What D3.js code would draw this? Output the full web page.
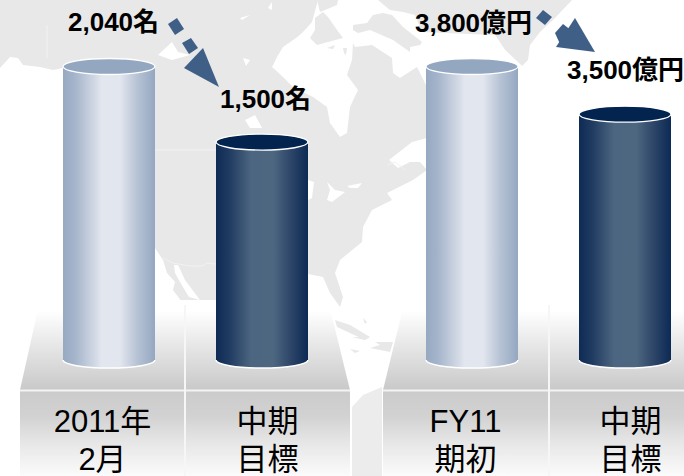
<!DOCTYPE html>
<html>
<head>
<meta charset="utf-8">
<script src="https://cdn.jsdelivr.net/npm/d3@7"></script>
<style>
html, body { margin: 0; padding: 0; background: #fff; overflow: hidden; }
svg { display: block; }
text { font-family: "Liberation Sans", "Noto Sans CJK JP", sans-serif; }
</style>
</head>
<body>
<svg width="684" height="476"></svg>
<script>
// values
var headcountCats = ["2011年|2月", "中期|目標"];
var headcountVals = [2040, 1500];
var costCats = ["FY11|期初", "中期|目標"];
var costVals = [3800, 3500];

var svg = d3.select("svg");
var defs = svg.append("defs");

function gradient(id, x2, y2, stops) {
    var g = defs.append("linearGradient").attr("id", id)
        .attr("x1", 0).attr("y1", 0).attr("x2", x2).attr("y2", y2);
    stops.forEach(function(s) {
        g.append("stop").attr("offset", s[0]).attr("stop-color", s[1]);
    });
}
gradient("lightBar", 1, 0, [[0, "#97a9c2"], [0.12, "#a3b3ca"], [0.32, "#ccd4e1"], [0.42, "#e2e6ef"], [0.62, "#e2e6ef"], [0.8, "#b8c4d5"], [1, "#94a7c1"]]);
gradient("darkBar", 1, 0, [[0, "#0e2b56"], [0.15, "#213c62"], [0.38, "#4c6580"], [0.62, "#4e6781"], [0.82, "#2c4467"], [1, "#0c2a55"]]);
gradient("floorTop", 0, 1, [[0, "#ffffff"], [0.12, "#ffffff"], [0.55, "#e4e4e4"], [1, "#c9c9c9"]]);
gradient("floorLow", 0, 1, [[0, "#cbcbcb"], [0.3, "#d2d2d2"], [0.6, "#e6e6e6"], [1, "#fbfbfb"]]);

// background map, hand traced, only decoration
var land = "#e8e8e8";
var mapG = svg.append("g");
var line = d3.line().curve(d3.curveLinearClosed);
function shape(points, fill) {
    mapG.append("path").attr("d", line(points)).attr("fill", fill);
}
shape([[0,0],[572,0],[555,18],[540,32],[530,45],[528,60],[522,66],[505,50],[495,35],[427,35],[427,138],[412,142],[389,160],[398,168],[410,162],[420,162],[427,170],[413,180],[387,193],[392,200],[372,210],[363,227],[362,242],[340,260],[335,273],[343,297],[340,307],[330,293],[323,277],[308,274],[216,302],[182,302],[173,290],[175,282],[167,273],[163,260],[155,248],[100,160],[63,68],[53,70],[40,67],[23,65],[18,58],[10,57],[0,68]], land);
// north atlantic and arctic water
shape([[272,67],[277,57],[283,47],[296,38],[303,32],[312,22],[318,0],[378,0],[390,10],[403,12],[415,15],[422,32],[430,40],[427,87],[417,67],[400,78],[393,73],[392,58],[372,45],[355,47],[353,43],[352,60],[347,75],[358,90],[350,107],[347,133],[340,137],[330,123],[327,107],[313,97],[293,87],[283,77]], "#fff");
shape([[420,32],[495,35],[505,50],[522,66],[427,66]], "#fff");
// arctic islands
shape([[315,18],[323,12],[328,17],[337,30],[343,38],[328,42],[317,45],[310,38],[315,30]], land);
shape([[327,48],[335,45],[333,49]], land);
shape([[343,48],[347,48],[346,55],[344,53]], land);
shape([[317,0],[338,0],[337,5],[325,10],[320,12]], land);
shape([[353,25],[367,23],[373,15],[383,13],[392,15],[403,27],[422,42],[420,45],[410,47],[410,52],[393,40],[370,30],[358,33],[353,30]], land);
// lakes and bays
shape([[308,180],[314,182],[312,198],[308,200]], "#fff");
shape([[327,182],[335,190],[345,192],[332,202],[327,200],[330,190]], "#fff");
shape([[347,186],[362,183],[358,188],[350,188]], "#fff");
shape([[158,55],[172,42],[178,52],[190,55],[172,60]], "#fff");
shape([[243,58],[250,60],[246,66]], "#fff");
shape([[240,18],[250,15],[242,20]], "#fff");
shape([[245,120],[255,115],[262,128],[250,128]], "#fff");
shape([[272,2],[272,10],[268,8]], "#fff");
// gulf of california
shape([[174,265],[178,265],[185,280],[200,300],[189,297],[180,282],[175,273]], "#fff");
// caribbean, seen in the gap between the floors
shape([[335,320],[350,325],[370,337],[365,340],[350,333],[337,327]], land);
shape([[375,342],[393,342],[390,352],[370,348],[380,345]], land);
shape([[350,349],[360,351],[355,353]], land);
shape([[352,337],[368,337],[365,340]], land);
shape([[363,318],[367,322],[365,324]], land);
// faint borders
var border = d3.line();
[[[155,150],[216,150]], [[47,25],[47,58]], [[163,258],[173,263],[190,266],[202,266],[207,263],[216,264]], [[387,165],[395,162],[405,170]]].forEach(function(b) {
    mapG.append("path").attr("d", border(b)).attr("fill", "none").attr("stroke", "#f2f2f2").attr("stroke-width", 1);
});

// floors under the bars
var floors = svg.append("g");
floors.append("path").attr("d", line([[40,300],[328,300],[350,390],[20,390]])).attr("fill", "url(#floorTop)");
floors.append("path").attr("d", line([[405,300],[684,300],[684,390],[383,390]])).attr("fill", "url(#floorTop)");
floors.append("rect").attr("x", 20).attr("y", 391).attr("width", 330).attr("height", 85).attr("fill", "url(#floorLow)");
floors.append("rect").attr("x", 383).attr("y", 391).attr("width", 301).attr("height", 85).attr("fill", "url(#floorLow)");
floors.append("path").attr("d", line([[352,407],[363,395],[382,387],[382,476],[352,476]])).attr("fill", "#ececec");
floors.append("rect").attr("x", 20).attr("y", 389.5).attr("width", 330).attr("height", 2).attr("fill", "#f4f4f4");
floors.append("rect").attr("x", 383).attr("y", 389.5).attr("width", 301).attr("height", 2).attr("fill", "#f4f4f4");
floors.append("rect").attr("x", 184).attr("y", 305).attr("width", 2).attr("height", 171).attr("fill", "#f6f6f6");
floors.append("rect").attr("x", 548).attr("y", 305).attr("width", 2).attr("height", 171).attr("fill", "#f6f6f6");

var baseY = 360;
var ry = 8;

function drawPanel(cats, vals, x0, x1, domain, unit, labelPos, kinds, cellRange) {
    var x = d3.scaleBand().domain(cats).range([x0, x1]).paddingInner(0.3987).paddingOuter(0);
    var cell = d3.scaleBand().domain(cats).range(cellRange);
    var y = d3.scaleLinear().domain(domain).range([baseY, 66.5]);
    var bw = x.bandwidth();
    var g = svg.append("g");
    var bars = g.selectAll("g.bar").data(vals).enter().append("g").attr("class", "bar");

    bars.append("path")
        .attr("d", function(d, i) {
            var l = x(cats[i]), top = y(d);
            return "M" + l + "," + top + "V" + baseY + "A" + bw / 2 + "," + ry + " 0 0 0 " + (l + bw) + "," + baseY + "V" + top + "Z";
        })
        .attr("fill", function(d, i) { return kinds[i] == 0 ? "url(#lightBar)" : "url(#darkBar)"; });
    // white rim under the bottom
    bars.append("path")
        .attr("d", function(d, i) {
            var l = x(cats[i]);
            return "M" + l + "," + baseY + "A" + bw / 2 + "," + ry + " 0 0 0 " + (l + bw) + "," + baseY;
        })
        .attr("fill", "none").attr("stroke", "#fff").attr("stroke-width", 1.5);
    bars.append("ellipse")
        .attr("cx", function(d, i) { return x(cats[i]) + bw / 2; })
        .attr("cy", function(d) { return y(d); })
        .attr("rx", bw / 2).attr("ry", ry)
        .attr("fill", function(d, i) { return kinds[i] == 0 ? "#94a7c0" : "#02244f"; })
        .attr("stroke", "#fff").attr("stroke-width", 1.3);

    // value labels
    g.selectAll("text.val").data(vals).enter().append("text").attr("class", "val")
        .attr("x", function(d, i) { return labelPos[i][0]; })
        .attr("y", function(d, i) { return labelPos[i][1]; })
        .attr("font-size", 26).attr("font-weight", "bold").attr("fill", "#000")
        .text(function(d) { return d3.format(",")(d) + unit; });

    // category labels
    cats.forEach(function(c) {
        var cx = cell(c) + cell.bandwidth() / 2;
        c.split("|").forEach(function(part, j) {
            g.append("text").attr("x", cx).attr("y", 432 + j * 37.5)
                .attr("text-anchor", "middle").attr("font-size", 31).attr("fill", "#000")
                .text(part);
        });
    });
}

drawPanel(headcountCats, headcountVals, 63, 308, [-57, 2040], "名", [[68, 31], [220, 108]], [0, 1], [20, 350]);
drawPanel(costCats, costVals, 426, 671, [1953, 3800], "億円", [[415, 32], [567, 79]], [0, 1], [383, 713]);

// dashed arrows between the bars
var arrowColor = "#3f5f87";
var arrows = svg.append("g").attr("fill", arrowColor);
arrows.append("path").attr("d", line([[168,24],[177,18],[184,29],[175,35]]));
arrows.append("path").attr("d", line([[182,43],[191,38],[198,48],[189,54]]));
arrows.append("path").attr("d", line([[203,48],[184,68],[219,87]]));
arrows.append("path").attr("d", line([[536,18],[543,10],[552,17],[545,25]]));
arrows.append("path").attr("d", line([[555,33],[563,24],[572,31],[560,44]]));
arrows.append("path").attr("d", line([[575,18],[556,47],[595,52]]));
</script>
</body>
</html>
